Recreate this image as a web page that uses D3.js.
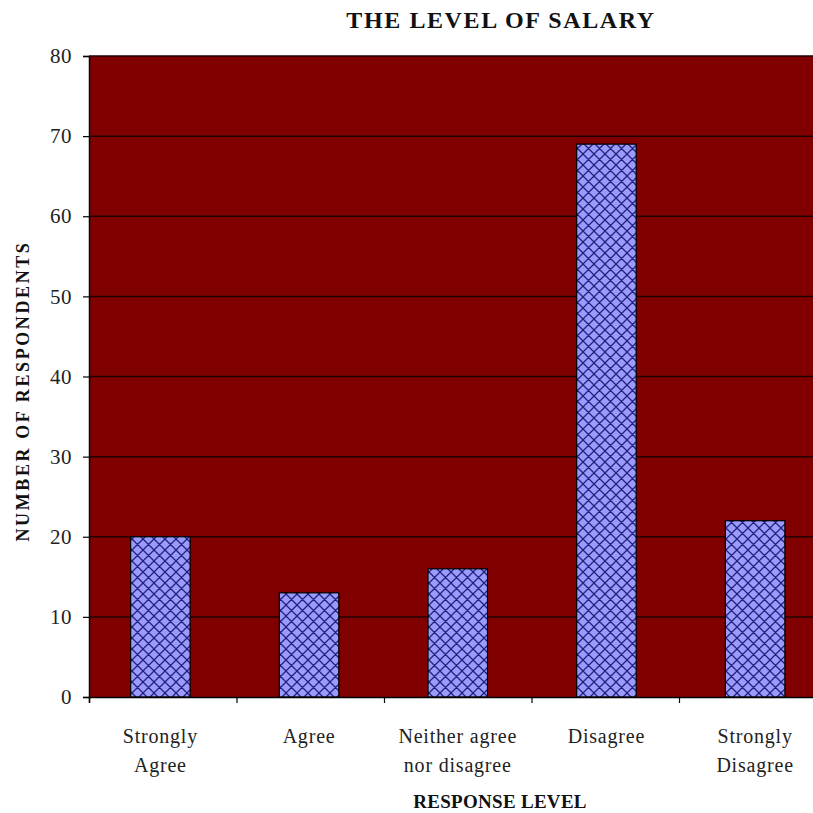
<!DOCTYPE html>
<html>
<head>
<meta charset="utf-8">
<script src="https://cdn.jsdelivr.net/npm/d3@7"></script>
<style>
  html, body { margin: 0; padding: 0; background: #fff; }
  svg { display: block; }
</style>
</head>
<body>
<svg id="chart" width="813" height="813"></svg>
<script>
// Survey responses on the level of salary
const categories = [["Strongly", "Agree"], ["Agree"], ["Neither agree", "nor disagree"], ["Disagree"], ["Strongly", "Disagree"]];
const respondents = [20, 13, 16, 69, 22];
const yTicks = [0, 10, 20, 30, 40, 50, 60, 70, 80];

const svg = d3.select("#chart");
const plotLeft = 89, plotTop = 56, plotBottom = 697, step = 147.5;
const plotRight = plotLeft + step * categories.length;
const font = "'Liberation Serif', 'Times New Roman', serif";

const x = d3.scaleBand()
  .domain(d3.range(categories.length))
  .range([plotLeft, plotRight])
  .paddingInner(0.6).paddingOuter(0.28);
const y = d3.scaleLinear().domain([0, 80]).range([plotBottom, plotTop]);

// cross-hatch fill for the bars
const P = 11;
const defs = svg.append("defs");
const pat = defs.append("pattern")
  .attr("id", "hatch").attr("patternUnits", "userSpaceOnUse")
  .attr("width", P).attr("height", P);
pat.append("rect").attr("width", P).attr("height", P).attr("fill", "#9b9bff");
pat.append("path")
  .attr("d", `M0,0L${P},${P}M${P},0L0,${P}M${-P/2},${P/2}L${P/2},${1.5*P}M${P/2},${-P/2}L${1.5*P},${P/2}M${-P/2},${P/2}L${P/2},${-P/2}M${P/2},${1.5*P}L${1.5*P},${P/2}`)
  .attr("stroke", "#22227a").attr("stroke-width", 1.3).attr("fill", "none");

// plot area
svg.append("rect")
  .attr("x", plotLeft).attr("y", plotTop)
  .attr("width", plotRight - plotLeft).attr("height", plotBottom - plotTop)
  .attr("fill", "#800000");

// gridlines
svg.append("g").selectAll("line")
  .data(yTicks.filter(d => d > 0))
  .join("line")
  .attr("x1", plotLeft).attr("x2", plotRight)
  .attr("y1", d => y(d)).attr("y2", d => y(d))
  .attr("stroke", "#200000").attr("stroke-width", 1.5);

// bars
svg.append("g").selectAll("rect")
  .data(respondents)
  .join("rect")
  .attr("x", (d, i) => x(i)).attr("width", x.bandwidth())
  .attr("y", d => y(d)).attr("height", d => y(0) - y(d))
  .attr("fill", "url(#hatch)")
  .attr("stroke", "#000").attr("stroke-width", 1.2);

// y axis
const yAxis = svg.append("g")
  .attr("transform", `translate(${plotLeft},0)`)
  .call(d3.axisLeft(y).tickValues(yTicks).tickSize(6).tickPadding(11));
yAxis.select(".domain").attr("stroke", "#000").attr("stroke-width", 1.5);
yAxis.selectAll(".tick line").attr("stroke", "#000").attr("stroke-width", 1.2);
yAxis.selectAll(".tick text")
  .attr("font-family", font).attr("font-size", 21).attr("fill", "#222")
  .attr("letter-spacing", 0.5);

// x axis with ticks between categories
const xEdges = d3.scaleLinear().domain([0, categories.length]).range([plotLeft, plotRight]);
const xAxis = svg.append("g")
  .attr("transform", `translate(0,${plotBottom})`)
  .call(d3.axisBottom(xEdges).ticks(categories.length).tickSize(6).tickFormat(""));
xAxis.select(".domain").attr("stroke", "#000").attr("stroke-width", 1.5);
xAxis.selectAll(".tick line").attr("stroke", "#000").attr("stroke-width", 1.2);

// category labels
const labels = svg.append("g").selectAll("text")
  .data(categories)
  .join("text")
  .attr("x", (d, i) => x(i) + x.bandwidth() / 2)
  .attr("y", 743)
  .attr("text-anchor", "middle")
  .attr("font-family", font).attr("font-size", 20).attr("fill", "#222")
  .attr("letter-spacing", 0.8);
labels.selectAll("tspan")
  .data(d => d)
  .join("tspan")
  .attr("x", function () { return d3.select(this.parentNode).attr("x"); })
  .attr("dy", (d, i) => i === 0 ? 0 : 29)
  .text(d => d);

// titles
svg.append("text")
  .attr("x", 501).attr("y", 28)
  .attr("text-anchor", "middle")
  .attr("font-family", font).attr("font-weight", "bold").attr("font-size", 24)
  .attr("letter-spacing", 1.6).attr("fill", "#111")
  .text("THE LEVEL OF SALARY");

svg.append("text")
  .attr("x", 500).attr("y", 808)
  .attr("text-anchor", "middle")
  .attr("font-family", font).attr("font-weight", "bold").attr("font-size", 19)
  .attr("letter-spacing", 0.3).attr("fill", "#111")
  .text("RESPONSE LEVEL");

svg.append("text")
  .attr("transform", "translate(29,391) rotate(-90)")
  .attr("text-anchor", "middle")
  .attr("font-family", font).attr("font-weight", "bold").attr("font-size", 18)
  .attr("letter-spacing", 2.6).attr("fill", "#111")
  .text("NUMBER OF RESPONDENTS");
</script>
</body>
</html>
